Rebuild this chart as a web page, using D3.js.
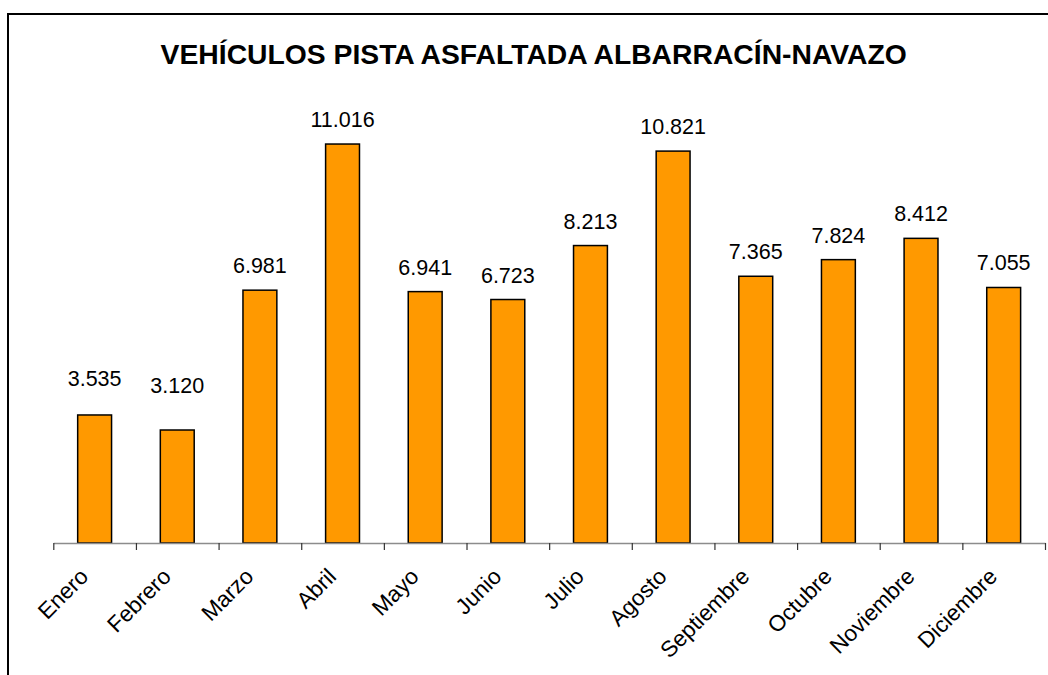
<!DOCTYPE html>
<html>
<head>
<meta charset="utf-8">
<script src="https://cdn.jsdelivr.net/npm/d3@7.9.0/dist/d3.min.js"></script>
<style>
  body { margin: 0; background: #fff; }
  svg { display: block; font-family: "Liberation Sans", Arial, sans-serif; }
</style>
</head>
<body>
<svg id="chart" width="1048" height="675"></svg>
<script>
const months = ['Enero', 'Febrero', 'Marzo', 'Abril', 'Mayo', 'Junio',
  'Julio', 'Agosto', 'Septiembre', 'Octubre', 'Noviembre', 'Diciembre'];
const vehicles = [3535, 3120, 6981, 11016, 6941, 6723, 8213, 10821, 7365, 7824, 8412, 7055];
const valueLabels = ['3.535', '3.120', '6.981', '11.016', '6.941', '6.723',
  '8.213', '10.821', '7.365', '7.824', '8.412', '7.055'];
const title = 'VEHÍCULOS PISTA ASFALTADA ALBARRACÍN-NAVAZO';

// labels that were dragged up by hand in the original
const labelLift = { Enero: 12, Febrero: 20 };

const svg = d3.select('#chart');

// outer frame (only left and top edges are visible in the window)
svg.append('rect')
  .attr('x', 8).attr('y', 14)
  .attr('width', 1100).attr('height', 700)
  .attr('fill', 'none')
  .attr('stroke', '#000')
  .attr('stroke-width', 2);

const plot = { left: 53.3, right: 1045, top: 108.4, bottom: 543 };

const x = d3.scaleBand()
  .domain(months)
  .range([plot.left, plot.right])
  .paddingInner(0.59)
  .paddingOuter(0.295);

const y = d3.scaleLinear()
  .domain([0, 12000])
  .range([plot.bottom, plot.top]);

svg.append('text')
  .attr('x', 533.7)
  .attr('y', 64)
  .attr('text-anchor', 'middle')
  .attr('font-size', 28.3)
  .attr('font-weight', 'bold')
  .text(title);

svg.append('g')
  .selectAll('rect')
  .data(vehicles)
  .enter()
  .append('rect')
  .attr('x', (d, i) => x(months[i]))
  .attr('y', d => y(d))
  .attr('width', x.bandwidth())
  .attr('height', d => y(0) - y(d))
  .attr('fill', '#FF9900')
  .attr('stroke', '#000')
  .attr('stroke-width', 1.5);

svg.append('g')
  .selectAll('text')
  .data(vehicles)
  .enter()
  .append('text')
  .attr('x', (d, i) => x(months[i]) + x.bandwidth() / 2)
  .attr('y', (d, i) => y(d) - 17 - (labelLift[months[i]] || 0))
  .attr('text-anchor', 'middle')
  .attr('font-size', 21.5)
  .attr('fill', '#000')
  .text((d, i) => valueLabels[i]);

// category axis: ticks sit between the categories
const edges = d3.scaleLinear().domain([0, months.length]).range([plot.left, plot.right]);
const axis = svg.append('g')
  .attr('transform', `translate(0,${plot.bottom})`)
  .call(d3.axisBottom(edges)
    .tickValues(d3.range(months.length + 1))
    .tickFormat('')
    .tickSize(7)
    .tickSizeOuter(0));
axis.select('.domain').attr('stroke', '#8c8c8c').attr('stroke-width', 1.5);
axis.selectAll('.tick line').attr('stroke', '#333').attr('stroke-width', 1.2);

svg.append('g')
  .selectAll('text')
  .data(months)
  .enter()
  .append('text')
  .attr('transform', d => `translate(${x(d) + x.bandwidth() / 2 - 5},${plot.bottom + 35}) rotate(-45)`)
  .attr('text-anchor', 'end')
  .attr('font-size', 22.5)
  .attr('fill', '#000')
  .text(d => d);
</script>
</body>
</html>
